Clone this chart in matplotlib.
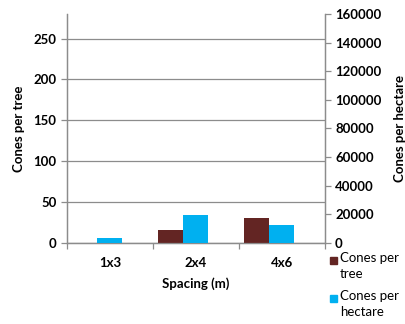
import matplotlib
matplotlib.use("Agg")
import matplotlib.pyplot as plt
import numpy as np
from matplotlib.patches import Rectangle

plt.rcParams['font.family'] = ['Lato', 'DejaVu Sans']

spacing = ["1x3", "2x4", "4x6"]
cones_per_tree = [0.0, 15.5, 30.6]
cones_per_hectare = [3000, 19500, 12500]
legend_labels = ["Cones per\ntree", "Cones per\nhectare"]

brown = "#632523"
blue = "#00B0F0"
grid = "#8c8c8c"

W, H = 405, 324
fig = plt.figure(figsize=(W / 100, H / 100), dpi=100)
ax = fig.add_axes([67/W, 1 - 242.7/H, (324.7 - 67)/W, (242.7 - 14)/H])
ax2 = ax.twinx()

x = np.arange(len(spacing))
w = 0.29
ax.bar(x - w, cones_per_tree, width=w, color=brown, zorder=3)
ax2.bar(x, cones_per_hectare, width=w, color=blue, zorder=3)

ax.set_xlim(-0.5, 2.5)
ax.set_ylim(0, 280)
ax2.set_ylim(0, 160000)
ax.set_yticks(np.arange(0, 251, 50))
ax2.set_yticks(np.arange(0, 160001, 20000))
ax.set_xticks(x)
ax.set_xticklabels(spacing)
ax.set_xticks([-0.5, 0.5, 1.5, 2.5], minor=True)

ax.yaxis.grid(True, color=grid, linewidth=0.9, zorder=0)
ax.set_axisbelow(True)

for a in (ax, ax2):
    a.spines['top'].set_visible(False)
    for s in ('left', 'right', 'bottom'):
        a.spines[s].set_color(grid)
        a.spines[s].set_linewidth(0.9)
    a.tick_params(axis='y', colors=grid, labelcolor='black', length=4, width=0.9,
                  labelsize=9.5)
    for lab in a.get_yticklabels():
        lab.set_fontweight('bold')

ax.tick_params(axis='x', which='major', length=0, pad=10, labelsize=9.5)
ax.tick_params(axis='x', which='minor', length=4, width=0.9, color=grid)
for lab in ax.get_xticklabels():
    lab.set_fontweight('bold')

ax.set_ylabel("Cones per tree", fontsize=9.5, fontweight='bold', labelpad=6)
ax2.set_ylabel("Cones per hectare", fontsize=9.5, fontweight='bold', labelpad=9)
ax.set_xlabel("Spacing (m)", fontsize=9.5, fontweight='bold', labelpad=6)

# legend: small square aligned with the first line of each two-line label
for label, color, yc in zip(legend_labels, [brown, blue], [260, 298]):
    fig.patches.append(Rectangle((330/W, 1 - (yc + 3.5)/H), 7/W, 7/H,
                                 transform=fig.transFigure, color=color))
    fig.text(340/W, 1 - (yc - 8)/H, label, fontsize=9.5, va='top', ha='left',
             linespacing=1.45)

fig.savefig("out.png", dpi=100)
